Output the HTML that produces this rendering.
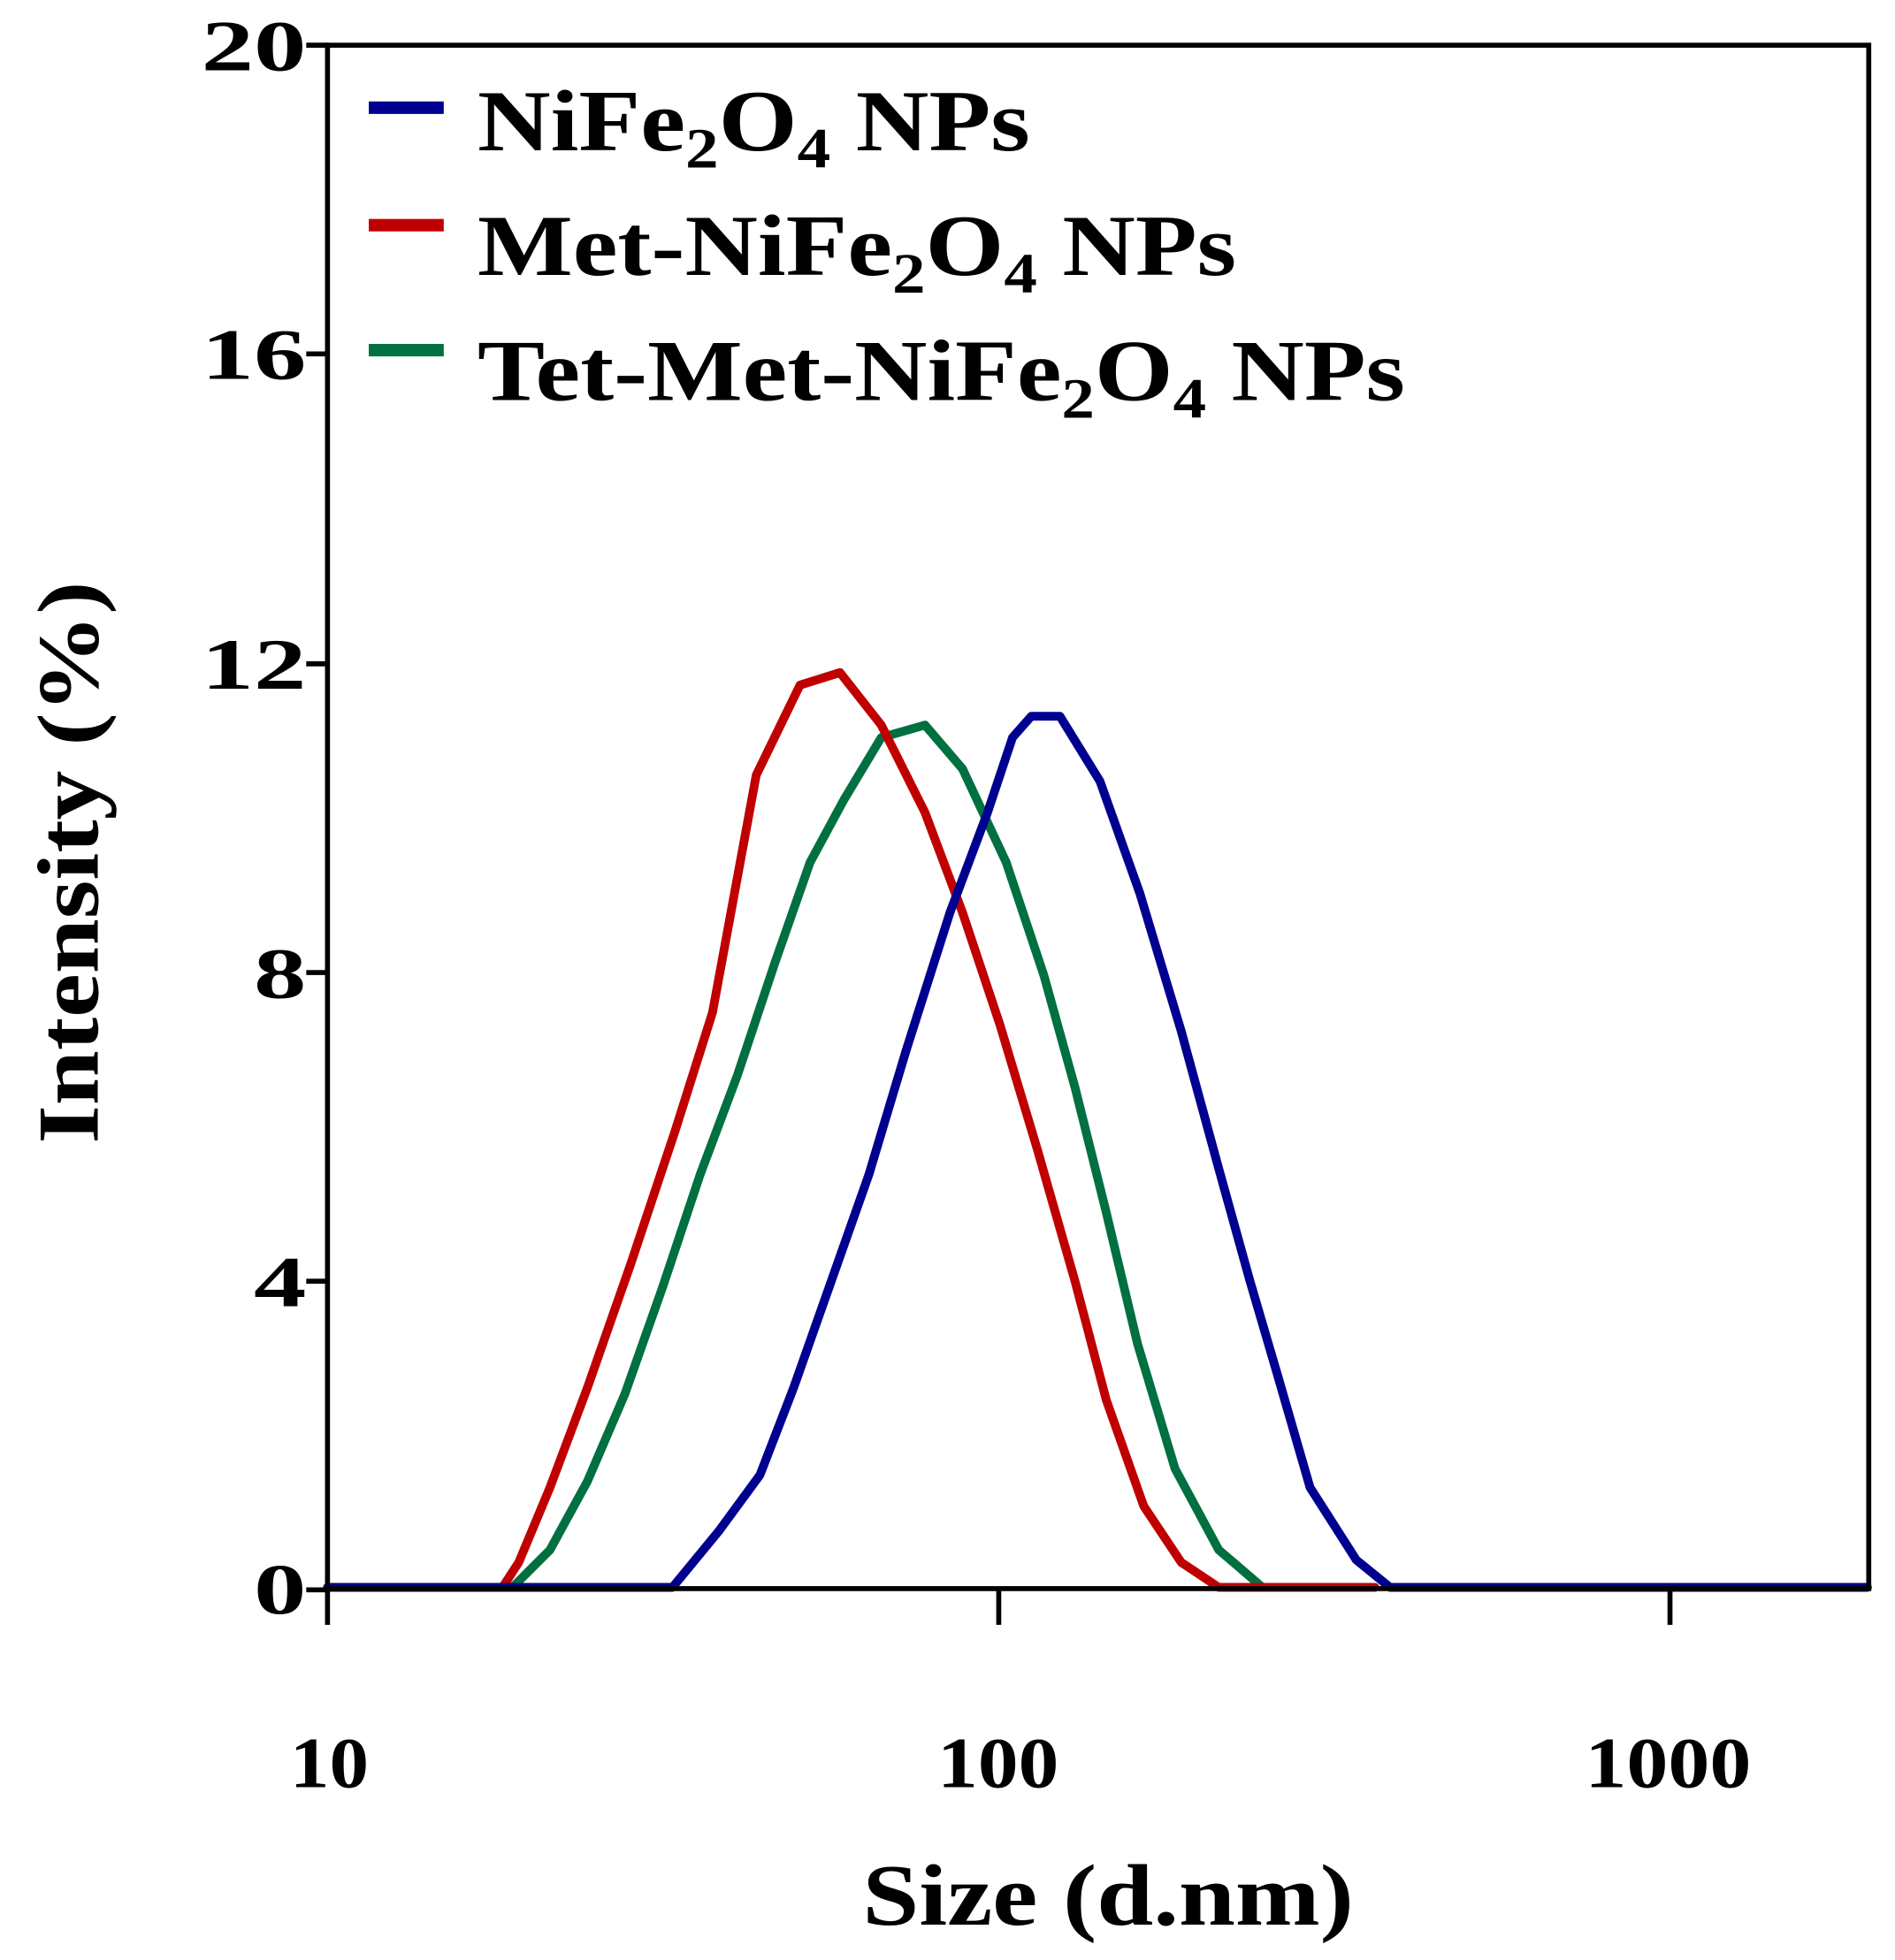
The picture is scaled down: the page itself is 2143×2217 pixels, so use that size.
<!DOCTYPE html>
<html><head><meta charset="utf-8"><style>
html,body{margin:0;padding:0;background:#fff;}
svg{display:block;}
text{font-family:"Liberation Serif",serif;font-weight:bold;fill:#000;}
</style></head><body>
<svg width="2143" height="2217" viewBox="0 0 1516 1568" xmlns="http://www.w3.org/2000/svg">
<g fill="none" stroke-linejoin="round" stroke-linecap="round" stroke-width="7">
<polyline stroke="#007040" points="262,1270 410,1270 440,1240 470,1185 500,1115 530,1030 560,940 590,860 620,770 648,690 675,640 705,590 740,580 770,615 805,690 835,780 860,870 885,970 910,1075 940,1175 975,1240 1010,1270"/>
<polyline stroke="#c00000" points="262,1270 402,1270 415,1250 440,1190 470,1110 505,1010 540,905 570,810 605,620 640,548 672,538 705,580 740,650 770,730 800,820 830,920 860,1025 885,1120 915,1205 945,1250 975,1270 1100,1270"/>
<polyline stroke="#000090" points="262,1270 538,1270 575,1225 608,1180 635,1110 665,1025 695,940 725,840 760,730 790,650 810,590 825,573 848,573 880,625 912,715 945,825 975,935 1000,1025 1022,1100 1048,1190 1085,1248 1112,1270 1494,1270"/>
</g>
<g stroke="#000" stroke-width="4" fill="none">
<rect x="262" y="36" width="1233" height="1235"/>
<line x1="245" y1="36" x2="262" y2="36"/>
<line x1="245" y1="283" x2="262" y2="283"/>
<line x1="245" y1="531" x2="262" y2="531"/>
<line x1="245" y1="778" x2="262" y2="778"/>
<line x1="245" y1="1025" x2="262" y2="1025"/>
<line x1="245" y1="1272" x2="262" y2="1272"/>
<line x1="262" y1="1272" x2="262" y2="1300"/>
<line x1="799" y1="1272" x2="799" y2="1300"/>
<line x1="1336" y1="1272" x2="1336" y2="1300"/>
</g>
<g font-size="58" text-anchor="end" lengthAdjust="spacingAndGlyphs">
<text x="245" y="56" textLength="84" lengthAdjust="spacingAndGlyphs">20</text>
<text x="245" y="303" textLength="84" lengthAdjust="spacingAndGlyphs">16</text>
<text x="245" y="551" textLength="84" lengthAdjust="spacingAndGlyphs">12</text>
<text x="245" y="798" textLength="42" lengthAdjust="spacingAndGlyphs">8</text>
<text x="245" y="1045" textLength="42" lengthAdjust="spacingAndGlyphs">4</text>
<text x="245" y="1291" textLength="42" lengthAdjust="spacingAndGlyphs">0</text>
</g>
<g font-size="58">
<text x="232" y="1430" textLength="63" lengthAdjust="spacingAndGlyphs">10</text>
<text x="750" y="1430" textLength="97" lengthAdjust="spacingAndGlyphs">100</text>
<text x="1268" y="1430" textLength="133" lengthAdjust="spacingAndGlyphs">1000</text>
</g>
<text x="690" y="1540" font-size="70" textLength="393" lengthAdjust="spacingAndGlyphs">Size (d.nm)</text>
<text transform="translate(78,915) rotate(-90)" font-size="70" textLength="450" lengthAdjust="spacingAndGlyphs">Intensity (%)</text>
<g stroke-width="10">
<line x1="295" y1="86" x2="355" y2="86" stroke="#000090"/>
<line x1="295" y1="180" x2="355" y2="180" stroke="#c00000"/>
<line x1="295" y1="280" x2="355" y2="280" stroke="#007040"/>
</g>
<g font-size="70">
<text x="382" y="120" textLength="442" lengthAdjust="spacingAndGlyphs">NiFe<tspan font-size="46" dy="14">2</tspan><tspan dy="-14">O</tspan><tspan font-size="46" dy="14">4</tspan><tspan dy="-14"> NPs</tspan></text>
<text x="382" y="220" textLength="607" lengthAdjust="spacingAndGlyphs">Met-NiFe<tspan font-size="46" dy="14">2</tspan><tspan dy="-14">O</tspan><tspan font-size="46" dy="14">4</tspan><tspan dy="-14"> NPs</tspan></text>
<text x="382" y="320" textLength="742" lengthAdjust="spacingAndGlyphs">Tet-Met-NiFe<tspan font-size="46" dy="14">2</tspan><tspan dy="-14">O</tspan><tspan font-size="46" dy="14">4</tspan><tspan dy="-14"> NPs</tspan></text>
</g>
</svg>
</body></html>
